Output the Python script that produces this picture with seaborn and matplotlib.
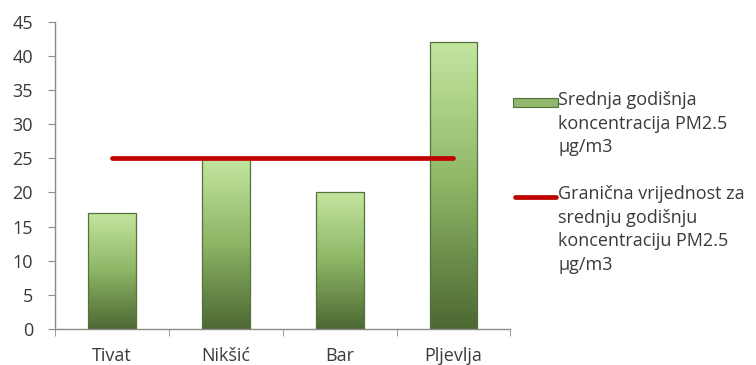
import matplotlib
matplotlib.use('Agg')
import matplotlib.pyplot as plt
import seaborn as sns
import numpy as np
import pandas as pd
from matplotlib.colors import LinearSegmentedColormap
from matplotlib.patches import Rectangle
from matplotlib.lines import Line2D

# data
cities = ['Tivat', 'Nikšić', 'Bar', 'Pljevlja']
pm25 = [17, 25, 20, 42]
limit = [25, 25, 25, 25]
yticks = list(range(0, 50, 5))
bar_label = 'Srednja godišnja\nkoncentracija PM2.5\nμg/m3'
line_label = 'Granična vrijednost za\nsrednju godišnju\nkoncentraciju PM2.5\nμg/m3'

sns.set_style('white')
plt.rcParams['font.family'] = ['Open Sans', 'DejaVu Sans']
text_color = '#3a3a3a'
W, H = 756, 365

df = pd.DataFrame({'grad': cities, 'pm': pm25})

fig = plt.figure(figsize=(W / 100, H / 100), dpi=100)
ax = fig.add_axes([0.073, 0.099, 0.602, 0.841])

sns.barplot(data=df, x='grad', y='pm', ax=ax, width=0.42,
            color='#7fa35a', edgecolor='#56703e', linewidth=0.9)

# vertical gradient fill for each bar
green = LinearSegmentedColormap.from_list('g', ['#4d6833', '#8cb565', '#c3e69f'])
grad = np.linspace(0, 1, 256).reshape(-1, 1)
for p in ax.patches:
    x0, y0 = p.get_x(), p.get_y()
    w, h = p.get_width(), p.get_height()
    im = ax.imshow(grad, cmap=green, origin='lower', aspect='auto',
                   extent=[x0, x0 + w, y0, y0 + h], zorder=2)
    im.set_clip_path(p)
    p.set_facecolor('none')
    p.set_zorder(3)

# limit value line
ax.plot(range(len(cities)), limit, color='#c00000', lw=3.4,
        solid_capstyle='round', zorder=4)

ax.set_xlim(-0.5, len(cities) - 0.5)
ax.set_ylim(0, 45)
ax.set_yticks(yticks)
ax.set_xticks(np.arange(len(cities) + 1) - 0.5, minor=True)
ax.set_xlabel('')
ax.set_ylabel('')

sns.despine(ax=ax)
for side in ['left', 'bottom']:
    ax.spines[side].set_color('#8c8c8c')
    ax.spines[side].set_linewidth(1.0)

ax.tick_params(axis='x', which='major', length=0, pad=13,
               labelsize=13, labelcolor=text_color)
ax.tick_params(axis='x', which='minor', length=5, color='#8c8c8c',
               direction='out', bottom=True)
ax.tick_params(axis='y', length=5, color='#8c8c8c', direction='out', left=True,
               pad=11, labelsize=13, labelcolor=text_color)

# legend drawn by hand so the keys line up with the first text line
fig.add_artist(Rectangle((513 / W, 1 - 107 / H), 45 / W, 9 / H,
                         transform=fig.transFigure, facecolor='#8fb86a',
                         edgecolor='#56703e', linewidth=0.8))
fig.add_artist(Line2D([515 / W, 556 / W], [1 - 197 / H, 1 - 197 / H],
                      transform=fig.transFigure, color='#c00000', lw=3.4,
                      solid_capstyle='round'))
fig.text(558 / W, 1 - 91 / H, bar_label, ha='left', va='top', fontsize=13,
         color=text_color, linespacing=1.4)
fig.text(558 / W, 1 - 185 / H, line_label, ha='left', va='top', fontsize=13,
         color=text_color, linespacing=1.4)

fig.savefig('out.png', dpi=100)
